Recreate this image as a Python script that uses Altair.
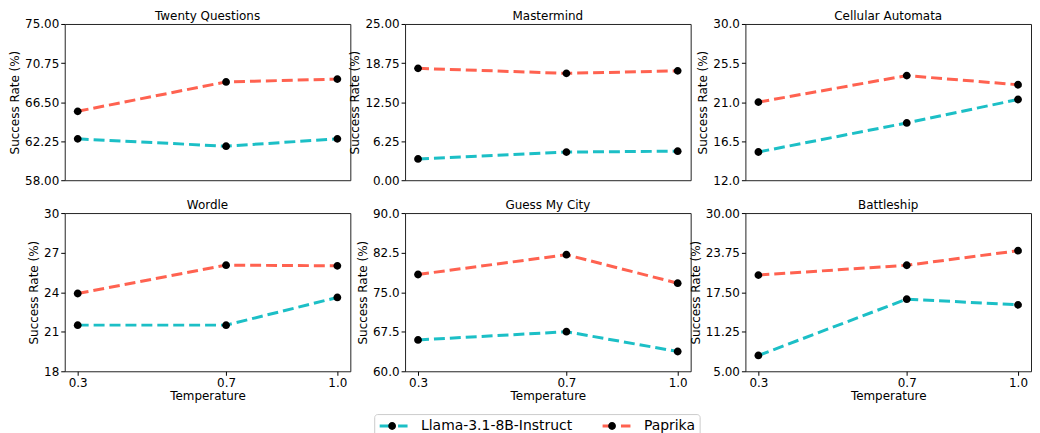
import altair as alt
import pandas as pd

temperatures = [0.3, 0.7, 1.0]
models = ["Llama-3.1-8B-Instruct", "Paprika"]
colors = ["#1CBFC6", "#FF6250"]

games = ["Twenty Questions", "Mastermind", "Cellular Automata",
         "Wordle", "Guess My City", "Battleship"]

twenty_llama = [62.5, 61.7, 62.5]
twenty_paprika = [65.5, 68.7, 69.0]
mastermind_llama = [3.4, 4.5, 4.65]
mastermind_paprika = [17.9, 17.1, 17.5]
cellular_llama = [15.25, 18.6, 21.3]
cellular_paprika = [21.0, 24.05, 23.0]
wordle_llama = [21.5, 21.5, 23.6]
wordle_paprika = [23.9, 26.05, 26.0]
city_llama = [65.95, 67.5, 63.75]
city_paprika = [78.35, 82.1, 76.7]
battleship_llama = [7.5, 16.4, 15.5]
battleship_paprika = [20.2, 21.75, 24.05]

twenty_ticks = [58.0, 62.25, 66.5, 70.75, 75.0]
mastermind_ticks = [0.0, 6.25, 12.5, 18.75, 25.0]
cellular_ticks = [12.0, 16.5, 21.0, 25.5, 30.0]
wordle_ticks = [18, 21, 24, 27, 30]
city_ticks = [60.0, 67.5, 75.0, 82.5, 90.0]
battleship_ticks = [5.0, 11.25, 17.5, 23.75, 30.0]

tick_formats = [".2f", ".2f", ".1f", "d", ".1f", ".2f"]

FONT = "DejaVu Sans"
CIRC = "M-0.28,0A0.28,0.28,0,1,0,0.28,0A0.28,0.28,0,1,0,-0.28,0Z"
LINE = "M-1,0L-0.32,0M0.32,0L1,0"

color_scale = alt.Scale(domain=models, range=colors)
shape_scale = alt.Scale(range=[CIRC, CIRC])

LX, LY = 311, 392

legend_lines = alt.Legend(
    orient="none", legendX=LX, legendY=LY, direction="horizontal", title=None,
    symbolType=LINE, symbolSize=784, symbolStrokeWidth=3, clipHeight=16,
    labelFont=FONT, labelFontSize=14, labelColor="black", labelOffset=12,
    columnPadding=28, padding=4, strokeColor="#cccccc", cornerRadius=3,
)
legend_dots = alt.Legend(
    orient="none", legendX=LX, legendY=LY, direction="horizontal", title=None,
    symbolType=CIRC, symbolSize=784, symbolFillColor="black",
    symbolStrokeColor="black", symbolStrokeWidth=0, clipHeight=16,
    labelFont=FONT, labelFontSize=14, labelOpacity=0, labelOffset=12,
    columnPadding=28, padding=4,
)

W = 287


def panel(title, llama, paprika, ticks, fmt, bottom):
    names = [models[0]] * 3 + [models[1]] * 3
    df = pd.DataFrame({
        "temp": temperatures * 2,
        "rate": llama + paprika,
        "model": names,
        "series": names,
    })
    if bottom:
        xaxis = alt.Axis(values=temperatures, format=".1f", title="Temperature")
    else:
        xaxis = None
    x = alt.X("temp:Q", scale=alt.Scale(domain=[0.265, 1.035], nice=False, zero=False),
              axis=xaxis)
    y = alt.Y("rate:Q",
              scale=alt.Scale(domain=[ticks[0], ticks[-1]], nice=False, zero=False),
              axis=alt.Axis(values=ticks, format=fmt, title="Success Rate (%)"))
    base = alt.Chart(df).encode(x=x, y=y)
    lines = base.mark_line(strokeWidth=3, strokeDash=[11, 5]).encode(
        color=alt.Color("model:N", scale=color_scale, legend=legend_lines))
    dots = base.mark_point(filled=True, color="black", size=784, opacity=1).encode(
        shape=alt.Shape("series:N", scale=shape_scale, legend=legend_dots))
    return alt.layer(lines, dots).properties(
        width=W, height=159 if bottom else 157,
        title=alt.Title(title, fontSize=12, fontWeight="normal", font=FONT,
                        offset=-5, color="black"))


llama_all = [twenty_llama, mastermind_llama, cellular_llama,
             wordle_llama, city_llama, battleship_llama]
paprika_all = [twenty_paprika, mastermind_paprika, cellular_paprika,
               wordle_paprika, city_paprika, battleship_paprika]
ticks_all = [twenty_ticks, mastermind_ticks, cellular_ticks,
             wordle_ticks, city_ticks, battleship_ticks]

panels = [panel(games[i], llama_all[i], paprika_all[i], ticks_all[i],
                tick_formats[i], i >= 3) for i in range(6)]

chart = alt.concat(*panels, columns=3, spacing={"row": 33, "column": 55}).properties(
    bounds="flush", padding=0
).configure_view(
    stroke="#222222", strokeWidth=1
).configure_axis(
    domain=False, grid=False, tickSize=4, tickColor="black", tickWidth=1,
    labelFont=FONT, labelFontSize=12, labelColor="black", labelPadding=2,
    titleFont=FONT, titleFontSize=12, titleFontWeight="normal", titleColor="black",
).configure_axisY(
    titlePadding=3
).configure_axisX(
    titlePadding=2
)

chart.save("out.html", embed_options={"renderer": "svg", "actions": False})
